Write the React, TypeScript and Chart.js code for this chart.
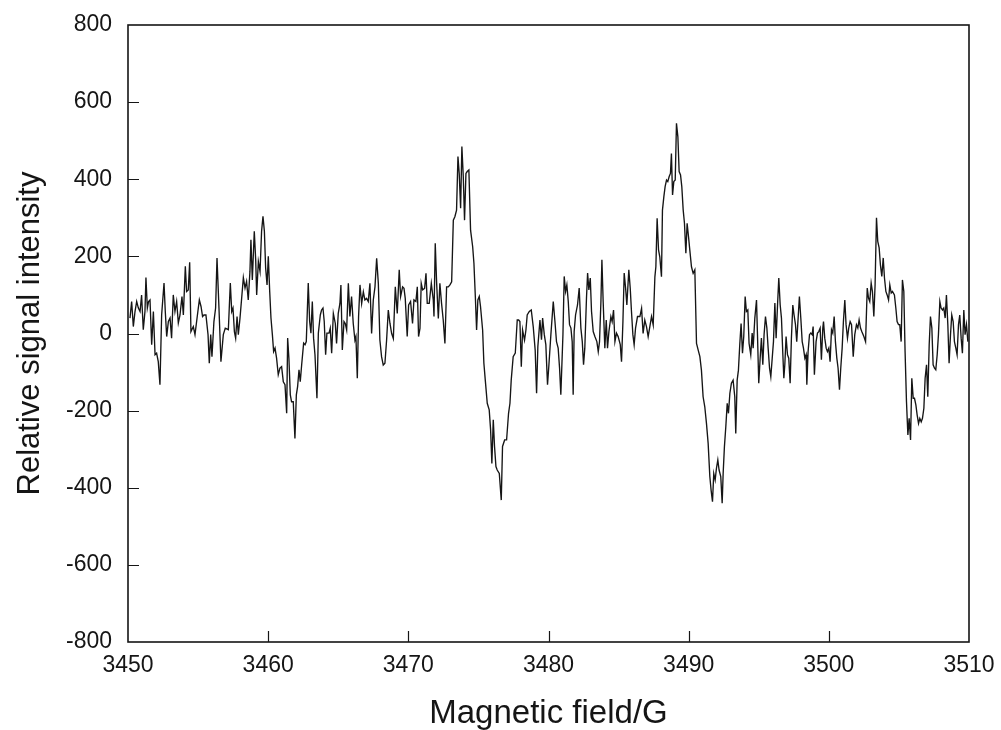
import React, { useEffect, useRef } from "react";
import Chart from "chart.js/auto";

// Magnetic field (G) sample positions
const fieldG: number[] = [
  3450.14, 3450.26, 3450.38, 3450.50, 3450.62, 3450.74, 3450.86, 3450.97, 3451.09, 3451.21,
  3451.28, 3451.38, 3451.47, 3451.57, 3451.69, 3451.81, 3451.93, 3452.04, 3452.16, 3452.28,
  3452.40, 3452.57, 3452.66, 3452.76, 3452.88, 3453.00, 3453.11, 3453.23, 3453.35, 3453.47,
  3453.59, 3453.71, 3453.85, 3453.95, 3454.09, 3454.18, 3454.30, 3454.40, 3454.49, 3454.66,
  3454.78, 3454.94, 3455.09, 3455.21, 3455.32, 3455.42, 3455.56, 3455.71, 3455.80, 3455.90,
  3455.99, 3456.13, 3456.25, 3456.35, 3456.49, 3456.63, 3456.80, 3456.94, 3457.16,
  3457.30, 3457.40, 3457.49, 3457.59, 3457.68, 3457.78, 3457.87, 3457.99, 3458.11, 3458.23,
  3458.35, 3458.46, 3458.58, 3458.70, 3458.77, 3458.87, 3459.01, 3459.11, 3459.18, 3459.30,
  3459.42, 3459.53, 3459.63, 3459.73, 3459.82, 3459.92, 3460.01, 3460.11, 3460.20, 3460.30,
  3460.39, 3460.49, 3460.60, 3460.72, 3460.84, 3460.96, 3461.08, 3461.20, 3461.32, 3461.39,
  3461.48, 3461.58, 3461.67, 3461.79, 3461.91, 3462.01, 3462.10, 3462.20, 3462.29, 3462.39,
  3462.53, 3462.63, 3462.72, 3462.86, 3462.96, 3463.05, 3463.15, 3463.24, 3463.34, 3463.48,
  3463.58, 3463.72, 3463.81, 3463.91, 3464.00, 3464.10, 3464.19, 3464.34, 3464.43,
  3464.53, 3464.65, 3464.79, 3464.88, 3465.00, 3465.12, 3465.19, 3465.29, 3465.41, 3465.50,
  3465.60, 3465.72, 3465.83, 3465.95, 3466.07, 3466.19, 3466.26, 3466.36, 3466.45, 3466.55,
  3466.67, 3466.79, 3466.90, 3467.02, 3467.14, 3467.26, 3467.38, 3467.50, 3467.62, 3467.74,
  3467.86, 3467.97, 3468.09, 3468.21, 3468.33, 3468.45, 3468.57, 3468.69, 3468.81, 3468.93,
  3469.07, 3469.21, 3469.35, 3469.45, 3469.59, 3469.69, 3469.78, 3469.92, 3470.02, 3470.16,
  3470.30, 3470.40, 3470.54, 3470.64, 3470.73, 3470.83, 3470.92, 3471.02, 3471.16, 3471.26,
  3471.35, 3471.49, 3471.64, 3471.78,
  3471.83, 3471.92, 3472.02, 3472.14, 3472.25, 3472.37, 3472.49, 3472.61, 3472.73, 3472.85,
  3472.97, 3473.09, 3473.21, 3473.32, 3473.44, 3473.54, 3473.63, 3473.73, 3473.82, 3473.92,
  3474.01, 3474.11, 3474.20, 3474.32, 3474.44, 3474.59, 3474.68, 3474.78, 3474.87, 3474.96,
  3475.06, 3475.15, 3475.30, 3475.39, 3475.49, 3475.63, 3475.77, 3475.87, 3475.96, 3476.06,
  3476.15, 3476.25, 3476.34, 3476.49, 3476.63, 3476.72, 3476.87, 3477.01, 3477.15, 3477.25,
  3477.34, 3477.48, 3477.63, 3477.77, 3477.87, 3477.96, 3478.06, 3478.15, 3478.29, 3478.39,
  3478.48, 3478.63, 3478.77, 3478.91, 3479.05, 3479.15, 3479.24,
  3479.39, 3479.50, 3479.58, 3479.70, 3479.81, 3479.93, 3480.03, 3480.17, 3480.34, 3480.46,
  3480.57, 3480.69, 3480.79, 3480.88, 3481.03, 3481.12, 3481.22, 3481.31, 3481.41, 3481.50,
  3481.60, 3481.69, 3481.76, 3481.83, 3481.93, 3482.07, 3482.19, 3482.31, 3482.41, 3482.50,
  3482.59, 3482.71, 3482.79, 3482.88, 3482.98, 3483.07, 3483.19, 3483.31, 3483.45, 3483.55,
  3483.64, 3483.74, 3483.81, 3483.90, 3484.02, 3484.12, 3484.21, 3484.31, 3484.45, 3484.54,
  3484.64, 3484.74, 3484.85, 3484.97, 3485.12, 3485.21, 3485.31, 3485.40, 3485.50, 3485.59,
  3485.73, 3485.83, 3485.92, 3486.02, 3486.11, 3486.21, 3486.35,
  3486.52, 3486.64, 3486.75, 3486.87, 3486.99, 3487.11, 3487.23, 3487.35, 3487.47, 3487.59,
  3487.66, 3487.75, 3487.85, 3487.94, 3488.06, 3488.13, 3488.23, 3488.32, 3488.42, 3488.51,
  3488.61, 3488.70, 3488.77, 3488.85, 3488.94, 3489.04, 3489.13, 3489.23, 3489.32, 3489.42,
  3489.51, 3489.61, 3489.70, 3489.80, 3489.89, 3489.99, 3490.08, 3490.20, 3490.32, 3490.44,
  3490.56, 3490.68, 3490.80, 3490.91, 3491.03, 3491.15, 3491.27, 3491.39, 3491.51, 3491.60,
  3491.70, 3491.79, 3491.89, 3491.98, 3492.08, 3492.17, 3492.29, 3492.39, 3492.46, 3492.55,
  3492.65, 3492.75, 3492.84, 3492.94, 3493.05, 3493.17, 3493.29, 3493.36, 3493.46, 3493.55,
  3493.65, 3493.74, 3493.84, 3493.93, 3494.03, 3494.12, 3494.22, 3494.31,
  3494.43, 3494.53, 3494.60, 3494.72, 3494.84, 3494.91, 3495.00, 3495.10, 3495.19, 3495.29,
  3495.38, 3495.48, 3495.58, 3495.67, 3495.77, 3495.86, 3495.96, 3496.05, 3496.15, 3496.24,
  3496.34, 3496.43, 3496.53, 3496.62, 3496.72, 3496.79, 3496.86, 3496.95, 3497.05, 3497.14,
  3497.24, 3497.33, 3497.43, 3497.52, 3497.62, 3497.71, 3497.81, 3497.90, 3498.00, 3498.10,
  3498.19, 3498.29, 3498.38, 3498.43, 3498.52, 3498.62, 3498.71, 3498.81, 3498.88, 3498.97,
  3499.09, 3499.19, 3499.28, 3499.38, 3499.47, 3499.57, 3499.62, 3499.71, 3499.81, 3499.90,
  3500.00, 3500.09, 3500.19, 3500.28, 3500.38, 3500.47, 3500.57, 3500.66, 3500.76, 3500.85,
  3500.95, 3501.04, 3501.14, 3501.23, 3501.33, 3501.42, 3501.52,
  3501.62, 3501.74, 3501.85, 3501.97, 3502.07, 3502.16, 3502.26, 3502.35, 3502.50, 3502.62,
  3502.74, 3502.83, 3502.92, 3503.02, 3503.11, 3503.21, 3503.30, 3503.40, 3503.49, 3503.59,
  3503.68, 3503.78, 3503.88, 3503.97, 3504.07, 3504.16, 3504.26, 3504.35, 3504.45, 3504.54,
  3504.68, 3504.78, 3504.87, 3504.97, 3505.06, 3505.16, 3505.25, 3505.35, 3505.44, 3505.54,
  3505.64, 3505.73, 3505.83, 3505.92, 3506.02, 3506.11, 3506.21, 3506.30, 3506.40, 3506.49,
  3506.59, 3506.68, 3506.78, 3506.87, 3506.97, 3507.06, 3507.16, 3507.25, 3507.35, 3507.44,
  3507.54, 3507.63, 3507.73, 3507.82, 3507.92, 3508.01, 3508.11, 3508.20, 3508.30, 3508.39,
  3508.49, 3508.58, 3508.68, 3508.77, 3508.87, 3508.96, 3509.06, 3509.15, 3509.25, 3509.34,
  3509.44, 3509.53, 3509.63, 3509.72, 3509.82, 3509.92,
];

// Relative signal intensity at each field position
const intensity: number[] = [
  40, 83, 18, 57, 83, 66, 57, 100, 10, 57,
  145, 66, 83, 87, -29, 57, -55, -51, -73, -133,
  48, 131, 57, -8, 31, 40, -12, 100, 57, 83,
  27, 48, 96, 48, 174, 109, 113, 185, 5, 18,
  -3, 44, 87, 70, 44, 48, 48, -3, -77, -3,
  -60, 31, 66, 196, 66, -73, -3, 14, 10,
  131, 57, 66, 5, -12, 44, -3, 40, 92, 145,
  118, 135, 87, 161, 243, 139, 265, 191, 100, 187,
  161, 265, 304, 265, 170, 126, 200, 109, 40, -3,
  -47, -38, -64, -107, -90, -86, -125, -133, -207, -12,
  -64, -159, -177, -177, -272, -159, -138, -94, -125, -81,
  -25, -29, -21, 131, 31, 1, 83, -12, -55, -168,
  1, 48, 61, 66, 31, -55, 1, 1, 14,
  -51, 52, 26, -26, 52, 78, 126, -43, 31, 26,
  9, 130, 44, 96, 26, -17, -8, -116, 44, 126,
  78, 108, 87, 91, 83, 130, 0, 87, 121, 195,
  130, -17, -60, -82, -77, -17, 61, 26, 0, -13,
  121, 52, 165, 96, 121, 117, 91, -8, 74, 83,
  26, 87, 83, 121, -8, 13, 130, 113, 117, 156,
  78, 78, 130, 87,
  44, 234, 130, 39, 130, 78, 35, -26, 121, 121,
  126, 134, 294, 303, 320, 459, 415, 325, 485, 407,
  294, 415, 420, 424, 268, 225, 182, 96, 9, 87,
  96, 70, 9, -77, -121, -181, -198, -250, -337, -224,
  -293, -345, -354, -363, -432, -293, -276, -276, -207, -181,
  -121, -60, -51, 35, 35, 31, -86, 9, -17, 9,
  48, 57, 61, 18, -43, -155, -34,
  35, -16, 40, -3, -29, -133, -81, -3, 83, 31,
  -21, -38, -90, -159, -3, 148, 109, 126, 83, 23,
  14, -21, -159, 5, 48, 74, 118, 14, -21, -81,
  -38, 92, 157, 113, 144, 57, 5, -8, -21, -47,
  -21, 83, 191, 83, -38, 35, -38, 5, 44, 31,
  61, -21, 1, -8, -29, -73, 31, 157, 118, 74,
  165, 118, 57, -3, -29, 14, 44,
  44, 65, 0, 35, 18, -8, 18, 44, 22, 147,
  173, 299, 217, 199, 147, 320, 355, 381, 398, 394,
  407, 415, 467, 359, 394, 398, 545, 510, 420, 411,
  381, 320, 286, 208, 286, 251, 217, 173, 156, 165,
  -26, -43, -60, -95, -164, -190, -233, -285, -371, -406,
  -436, -363, -380, -350, -328, -354, -371, -440, -363, -294,
  -242, -181, -207, -155, -129, -121, -164, -259, -121, -95,
  -26, 26, -51, -8, 96, 57, 61, -26,
  -55, 1, -38, 40, 87, -3, -129, -64, -12, -81,
  -3, 44, 14, -38, -90, -112, -64, -21, 79, -12,
  74, 144, 74, 40, -55, -116, -81, -8, -55, -64,
  -129, -12, 74, 48, 23, -21, 40, 96, 40, -21,
  -38, -64, -55, -133, -47, -3, 1, -3, 18, -107,
  -21, 1, 5, 14, -68, 14, 31, -12, -38, -47,
  -38, -73, 10, 1, 44, -21, -64, -90, -146, -90,
  -38, 31, 87, 23, -12, 14, 31,
  23, -60, -3, 23, 14, 35, 14, 5, -8, -21,
  118, 92, 83, 131, 109, 44, 126, 300, 239, 222,
  178, 148, 196, 144, 109, 100, 87, 126, 105, 109,
  100, 66, 31, 23, 23, -21, 139, 109, -47, -177,
  -263, -220, -276, -116, -168, -168, -185, -211, -233, -220,
  -229, -220, -194, -116, -81, -164, -29, 44, 14, -81,
  -90, -94, -55, -3, 83, 66, 61, 66, 40, 100,
  23, -77, -3, 48, 31, -21, -38, -55, 23, 48,
  -12, -51, 61, -3, 23, -21,
];

const xMin = 3450;
const xMax = 3510;
const xStep = 10;
const yMin = -800;
const yMax = 800;
const yStep = 200;
const xTitle = "Magnetic field/G";
const yTitle = "Relative signal intensity";

const FONT = "'Liberation Sans', Arial, Helvetica, sans-serif";
const INK = "#151515";

export default function App() {
  const ref = useRef<HTMLCanvasElement | null>(null);

  useEffect(() => {
    document.body.style.margin = "0";
    const canvas = ref.current;
    if (!canvas) return;

    const points = fieldG.map((x, i) => ({ x, y: intensity[i] }));

    const framePlugin = {
      id: "frameTicks",
      afterDatasetsDraw(chart: any) {
        const { ctx, chartArea: a, scales } = chart;
        ctx.save();
        ctx.strokeStyle = INK;
        ctx.lineWidth = 1.6;
        ctx.strokeRect(a.left, a.top, a.right - a.left, a.bottom - a.top);
        ctx.lineWidth = 1.2;
        ctx.beginPath();
        scales.x.ticks.forEach((t: any) => {
          if (t.value > xMin && t.value < xMax) {
            const px = Math.round(scales.x.getPixelForValue(t.value)) + 0.5;
            ctx.moveTo(px, a.bottom);
            ctx.lineTo(px, a.bottom - 11);
          }
        });
        scales.y.ticks.forEach((t: any) => {
          if (t.value > yMin && t.value < yMax) {
            const py = Math.round(scales.y.getPixelForValue(t.value)) + 0.5;
            ctx.moveTo(a.left, py);
            ctx.lineTo(a.left + 11, py);
          }
        });
        ctx.stroke();
        ctx.restore();
      },
    };

    const chart = new Chart(canvas, {
      type: "scatter",
      data: {
        datasets: [
          {
            data: points,
            showLine: true,
            borderColor: INK,
            borderWidth: 1.35,
            pointRadius: 0,
            tension: 0,
          },
        ],
      },
      options: {
        responsive: false,
        animation: false,
        events: [],
        layout: { padding: { top: 25, right: 32, left: 0, bottom: 0 } },
        plugins: { legend: { display: false }, tooltip: { enabled: false } },
        scales: {
          x: {
            type: "linear",
            min: xMin,
            max: xMax,
            grid: { display: false, drawTicks: false },
            border: { display: false },
            ticks: {
              stepSize: xStep,
              color: INK,
              font: { family: FONT, size: 23 },
              padding: 10,
              maxRotation: 0,
              callback: (v: any) => String(v),
            },
            title: {
              display: true,
              text: xTitle,
              color: INK,
              font: { family: FONT, size: 33, lineHeight: 1.0 },
              padding: { top: 0, bottom: 0 },
            },
            afterFit: (s: any) => {
              s.height = 88;
              s.paddingLeft = 0;
              s.paddingRight = 0;
            },
          },
          y: {
            min: yMin,
            max: yMax,
            grid: { display: false, drawTicks: false },
            border: { display: false },
            ticks: {
              stepSize: yStep,
              color: INK,
              font: { family: FONT, size: 23 },
              padding: 16,
              callback: (v: any) => String(v),
            },
            title: {
              display: true,
              text: yTitle,
              color: INK,
              font: { family: FONT, size: 31 },
              padding: { top: 12, bottom: 0 },
            },
            afterFit: (s: any) => {
              s.width = 128;
              s.paddingTop = 0;
              s.paddingBottom = 0;
            },
          },
        },
      },
      plugins: [framePlugin],
    } as any);

    return () => chart.destroy();
  }, []);

  return (
    <div style={{ width: 1001, height: 730, background: "#fff" }}>
      <canvas ref={ref} width={1001} height={730} style={{ display: "block" }} />
    </div>
  );
}
